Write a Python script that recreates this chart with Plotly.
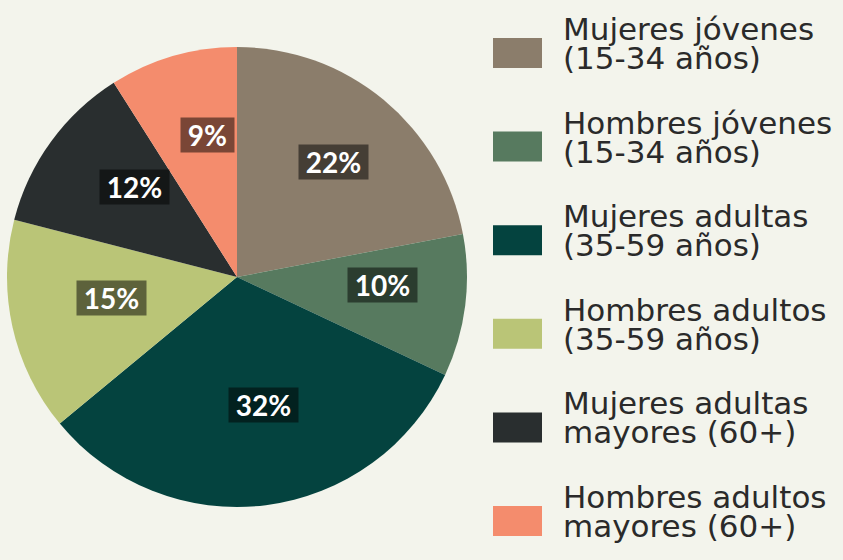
import math
import plotly.graph_objects as go

# data
categories = [
    "Mujeres jóvenes\n(15-34 años)",
    "Hombres jóvenes\n(15-34 años)",
    "Mujeres adultas\n(35-59 años)",
    "Hombres adultos\n(35-59 años)",
    "Mujeres adultas\nmayores (60+)",
    "Hombres adultos\nmayores (60+)",
]
shares = [22, 10, 32, 15, 12, 9]
colors = ["#8B7D6B", "#577A5F", "#04433F", "#BAC577", "#292E2F", "#F48C6D"]

W, H = 843, 560
BG = "#F3F4EC"

# pie placement (paper coords)
dom_x = [7 / W, 467 / W]
dom_y = [53 / H, 513 / H]

fig = go.Figure()
fig.add_trace(go.Pie(
    labels=[c.replace("\n", " ") for c in categories],
    values=shares,
    sort=False,
    direction="clockwise",
    rotation=0,
    marker=dict(colors=colors, line=dict(width=0)),
    textinfo="none",
    hoverinfo="label+percent",
    domain=dict(x=dom_x, y=dom_y),
    showlegend=False,
))

# percent labels with dark boxes, placed near the middle angle of each slice
cx = (dom_x[0] + dom_x[1]) / 2
cy = (dom_y[0] + dom_y[1]) / 2
rx = (dom_x[1] - dom_x[0]) / 2
ry = (dom_y[1] - dom_y[0]) / 2
total = sum(shares)
cum = 0
for v in shares:
    mid = (cum + v / 2) / total * 2 * math.pi
    cum += v
    fig.add_annotation(
        x=cx + 0.6 * rx * math.sin(mid) + 9 / W,
        y=cy + 0.6 * ry * math.cos(mid) + 9 / H,
        xref="paper", yref="paper",
        xanchor="center", yanchor="middle",
        text=f" {round(100 * v / total)}% ",
        showarrow=False,
        font=dict(family="Lato", size=28, color="white", weight="bold"),
        bgcolor="rgba(0,0,0,0.5)",
        borderpad=0,
    )

# custom legend with big square swatches
for i, (name, color) in enumerate(zip(categories, colors)):
    yc = 53 + i * 93.6
    fig.add_shape(
        type="rect", xref="paper", yref="paper",
        x0=493 / W, x1=542 / W,
        y0=1 - (yc + 15) / H, y1=1 - (yc - 15) / H,
        fillcolor=color, line=dict(width=0),
    )
    line1, line2 = name.split("\n")
    for txt, dy in ((line1, -24), (line2, 5)):
        fig.add_annotation(
            x=561 / W, y=1 - (yc + dy) / H,
            xref="paper", yref="paper",
            xanchor="left", yanchor="middle",
            text=txt, showarrow=False,
            font=dict(family="DejaVu Sans", size=31, color="#2A2A2A"),
        )

fig.update_layout(
    width=W, height=H,
    margin=dict(l=0, r=0, t=0, b=0),
    paper_bgcolor=BG,
    plot_bgcolor=BG,
)

fig.write_html("out.html", config={"displayModeBar": False},
               post_script="document.body.style.margin='0';")
